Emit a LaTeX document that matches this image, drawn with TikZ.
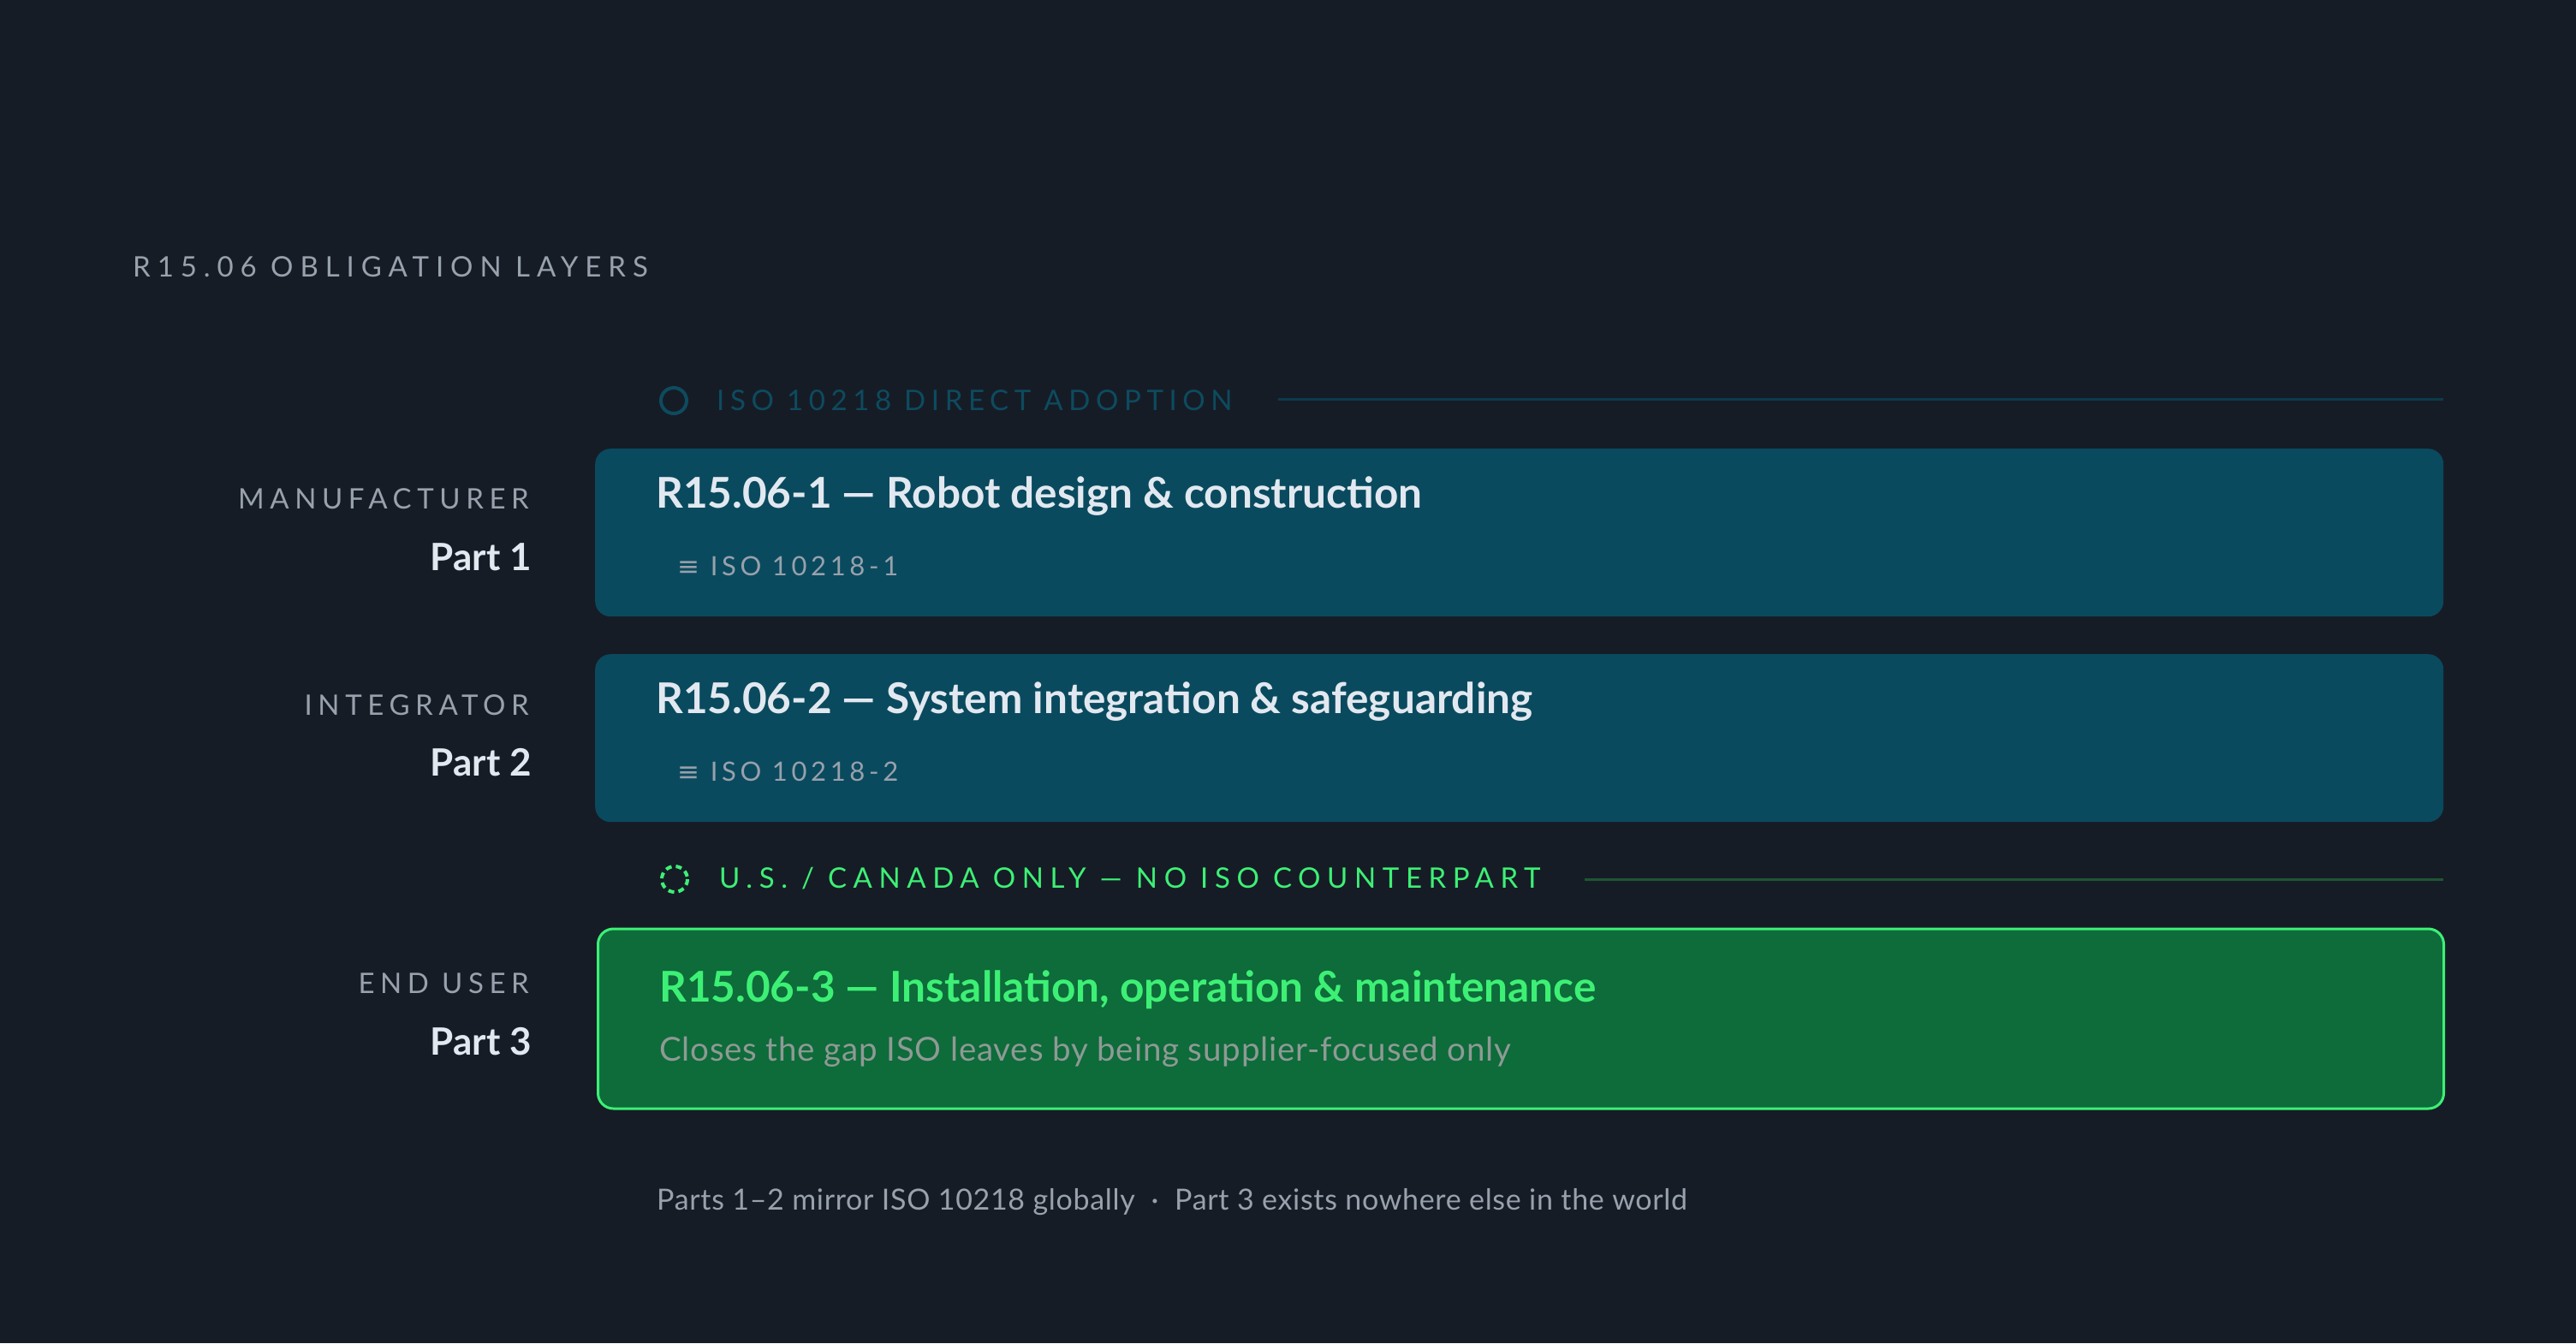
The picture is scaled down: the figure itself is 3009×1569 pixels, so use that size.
\documentclass[tikz,border=0pt]{standalone}
\usepackage{fontspec}
\setmainfont{Lato}
\newfontfamily\headfont[LetterSpace=24]{Lato}
\newfontfamily\capsfont[LetterSpace=20]{Lato}
\newfontfamily\widecaps[LetterSpace=23]{Lato}
\newfontfamily\subfont[LetterSpace=15]{Lato}
\newfontfamily\bodyfont[LetterSpace=2]{Lato}
\newfontfamily\glyphfont{DejaVu Sans}
\usetikzlibrary{positioning}

\definecolor{bgcol}{HTML}{161C26}
\definecolor{tealbox}{HTML}{0A4A5E}
\definecolor{tealtext}{HTML}{0D4B5F}
\definecolor{tealrule}{HTML}{0B3B4C}
\definecolor{greenbox}{HTML}{0E6B3A}
\definecolor{greenline}{HTML}{3DF075}
\definecolor{greenrule}{HTML}{1E5534}
\definecolor{titlecol}{HTML}{E2E8F0}
\definecolor{graycol}{HTML}{98A1AC}
\definecolor{subgray}{HTML}{8E9A95}

\tikzset{
  txt/.style={inner sep=0pt, anchor=base west},
  rtxt/.style={inner sep=0pt, anchor=base east},
  layerbox/.style={rectangle, rounded corners=18pt, minimum width=2159pt, anchor=north west, inner sep=0pt},
  boxtitle/.style={txt, font=\fontsize{49.5}{58}\selectfont\bfseries, text=titlecol},
  boxsub/.style={txt, font=\fontsize{31}{36}\selectfont\subfont, text=graycol},
  role/.style={rtxt, font=\fontsize{33}{40}\selectfont\capsfont, text=graycol},
  part/.style={rtxt, font=\fontsize{44}{52}\selectfont\bfseries, text=titlecol},
  hdr/.style={txt, font=\fontsize{33}{40}\selectfont\capsfont}
}

\begin{document}
\begin{tikzpicture}[x=1pt,y=-1pt]
\fill[bgcol] (0,0) rectangle (3009,1569);
\useasboundingbox (0,0) rectangle (3009,1569);

% heading
\node[txt, font=\fontsize{33}{40}\selectfont\headfont, text=graycol] (heading) at (155,323) {R15.06 OBLIGATION LAYERS};

% ISO adoption band
\draw[tealtext, line width=4pt] (787,468) circle (15);
\node[hdr, text=tealtext] (isohdr) at (837,479) {ISO 10218 DIRECT ADOPTION};
\coordinate (isoA) at (1493,466);
\coordinate (isoB) at (2854,466);
\draw[tealrule, line width=3pt] (isoA) -- (isoB);

% layer boxes
\node[layerbox, fill=tealbox, minimum height=196pt] (box1) at (695,524) {};
\node[layerbox, fill=tealbox, minimum height=196pt] (box2) at (695,764) {};
\node[layerbox, fill=greenbox, draw=greenline, line width=3pt, minimum width=2156pt, minimum height=210pt] (box3) at (697,1083.5) {};

\node[boxtitle] (t1) at (766,593) {R15.06-1 — Robot design \& construction};
\node[boxsub] (s1) at (791,672) {{\glyphfont ≡} ISO 10218-1};
\node[boxtitle] (t2) at (766,833) {R15.06-2 — System integration \& safeguarding};
\node[boxsub] (s2) at (791,912) {{\glyphfont ≡} ISO 10218-2};

% US / Canada band
\draw[greenline, line width=4pt, dash pattern=on 7pt off 5pt] (788,1027) circle (15);
\node[hdr, font=\fontsize{33}{40}\selectfont\widecaps, text=greenline] (ushdr) at (840,1037) {U.S. / CANADA ONLY — NO ISO COUNTERPART};
\coordinate (usA) at (1851,1027);
\coordinate (usB) at (2854,1027);
\draw[greenrule, line width=3pt] (usA) -- (usB);

\node[boxtitle, text=greenline] (t3) at (770,1170) {R15.06-3 — Installation, operation \& maintenance};
\node[txt, font=\fontsize{38.5}{44}\selectfont\bodyfont, text=subgray] (s3) at (770,1239) {Closes the gap ISO leaves by being supplier-focused only};

% roles
\node[role] (r1) at (618,594) {MANUFACTURER};
\node[part] (p1) at (621,666) {Part 1};
\node[role] (r2) at (618,835) {INTEGRATOR};
\node[part] (p2) at (621,906) {Part 2};
\node[role] (r3) at (618,1160) {END USER};
\node[part] (p3) at (621,1232) {Part 3};

% footnote
\node[txt, font=\fontsize{34}{40}\selectfont\bodyfont, text=graycol] (foot) at (767,1413) {Parts 1–2 mirror ISO 10218 globally \ · \ Part 3 exists nowhere else in the world};
\end{tikzpicture}
\end{document}
